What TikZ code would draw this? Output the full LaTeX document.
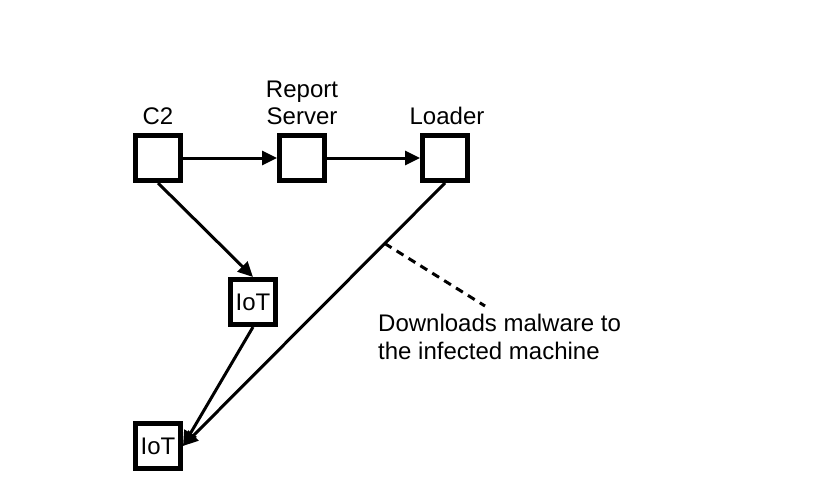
\documentclass[tikz,border=0pt]{standalone}
\usepackage{fontspec}
\setmainfont{Liberation Sans}
\usetikzlibrary{arrows.meta, positioning}

\tikzset{
  hostbox/.style={draw, line width=5pt, minimum size=45pt, inner sep=0pt, fill=white},
  link/.style={line width=3pt, -{Triangle[length=15pt,width=14pt]}},
  lbl/.style={inner sep=0pt, align=center}
}

\begin{document}
\begin{tikzpicture}[x=1pt, y=1pt, font=\fontsize{24}{27.5}\selectfont]
  \useasboundingbox (0,0) rectangle (816,-480);

  % Server
  \node[hostbox] (c2) at (158,-158) {};
  \node[hostbox] (report) at (302,-158) {};
  \node[hostbox] (loader) at (445,-158) {};
  \node[lbl, above=8pt of c2] (c2lbl) {C2};
  \node[lbl, above=8pt of report] (reportlbl) {Report\\Server};
  \node[lbl, above=8pt of loader, xshift=2pt] (loaderlbl) {Loader};

  % IoT
  \node[hostbox] (iota) at (253,-302) {IoT};
  \node[hostbox] (iotb) at (158,-446) {IoT};

  % Verbindungen
  \draw[link] (c2) -- (report);
  \draw[link] (report) -- (loader);
  \draw[link] (c2.south) -- (iota.north);
  \draw[link] (iota.south) -- (iotb.east);
  \draw[link] (loader.south) -- (iotb.east) coordinate[pos=0.23] (dl);

  % Hinweis
  \coordinate (dashend) at (485,-306);
  \draw[line width=3pt, dash pattern=on 8pt off 6pt] (dl) -- (dashend);
  \node[anchor=north west, align=left, inner sep=0pt] (note) at (378,-314)
    {Downloads malware to\\the infected machine};
\end{tikzpicture}
\end{document}
